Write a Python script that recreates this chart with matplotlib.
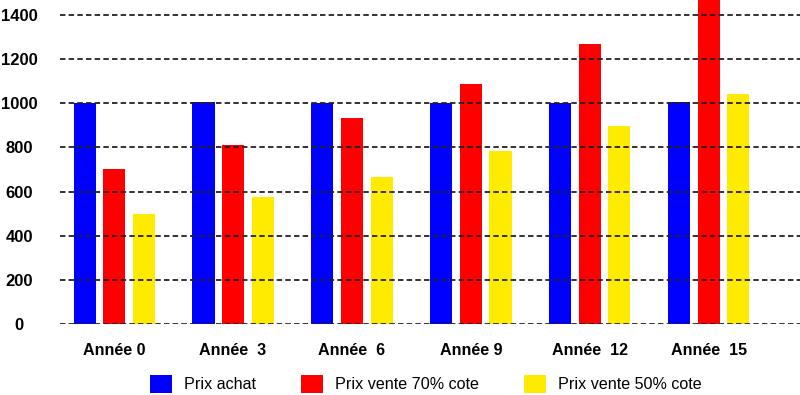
import numpy as np
import matplotlib.pyplot as plt

# Values
years = ["Année 0", "Année  3", "Année  6", "Année 9", "Année  12", "Année  15"]
prix_achat = [1000, 1005, 1000, 1000, 1000, 1005]
prix_vente_70 = [700, 812, 935, 1088, 1270, 1550]
prix_vente_50 = [497, 577, 664, 783, 896, 1043]

BLUE = "#0000ff"
RED = "#ff0000"
YELLOW = "#ffeb00"

plt.rcParams.update({
    "font.family": ["Liberation Sans", "DejaVu Sans"],
})

fig = plt.figure(figsize=(8, 3.95), dpi=100)
ax = fig.add_axes([0.075, 0.18, 0.925, 0.82])

x = np.arange(len(years))
w = 0.185
off = 0.248
ax.bar(x - off, prix_achat, w, color=BLUE, label="Prix achat", zorder=1)
ax.bar(x, prix_vente_70, w, color=RED, label="Prix vente 70% cote", zorder=1)
ax.bar(x + off, prix_vente_50, w, color=YELLOW, label="Prix vente 50% cote", zorder=1)

ax.set_xlim(-0.454, 5.765)
ax.set_ylim(0, 1468)

ax.set_yticks(range(0, 1401, 200))
ax.set_axisbelow(False)
ax.yaxis.grid(True, color="#222222", linewidth=1.3, linestyle=(0, (3.0, 1.8)))
for s in ax.spines.values():
    s.set_visible(False)

ax.set_xticks(x)
ax.set_xticklabels(years, fontsize=11.6, fontweight="bold")
ax.tick_params(axis="x", length=0, pad=14)
ax.tick_params(axis="y", length=0, pad=29.5, labelsize=12)
for lab in ax.get_yticklabels():
    lab.set_fontweight("bold")
    lab.set_horizontalalignment("center")

fig.legend(loc="center", bbox_to_anchor=(0.532, 0.028), ncol=3, frameon=False,
           fontsize=11.6, handlelength=1.37, handleheight=1.37, handletextpad=0.75,
           columnspacing=2.8, borderpad=0)

fig.savefig("out.png", dpi=100)
